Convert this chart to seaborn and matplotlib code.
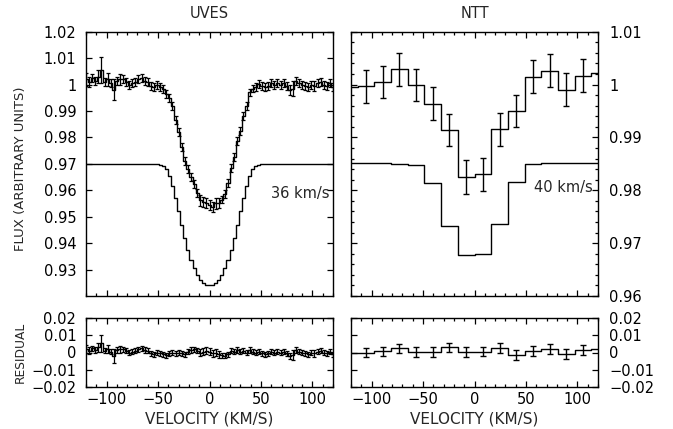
import numpy as np
import matplotlib
matplotlib.use("Agg")
import matplotlib.pyplot as plt
import seaborn as sns
from matplotlib.ticker import MultipleLocator

# ---------------------------------------------------------------------------
# Data
# ---------------------------------------------------------------------------
# UVES: velocity grid (km/s), observed flux, errors, model and residuals
uves_vel = np.arange(-120, 121, 3)
uves_flux = [
    1.0020, 1.0010, 1.0025, 1.0015, 1.0030, 1.0055, 1.0010, 1.0020, 1.0005, 0.9980,
    1.0015, 1.0020, 1.0020, 1.0010, 1.0000, 1.0005, 1.0010, 1.0020, 1.0025, 1.0015,
    1.0010, 0.9995, 0.9990, 0.9999, 0.9992, 0.9982, 0.9965, 0.9950, 0.9918, 0.9865,
    0.9820, 0.9765, 0.9710, 0.9680, 0.9651, 0.9625, 0.9590, 0.9562, 0.9555, 0.9552,
    0.9545, 0.9537, 0.9550, 0.9552, 0.9565, 0.9585, 0.9626, 0.9685, 0.9725, 0.9785,
    0.9825, 0.9880, 0.9918, 0.9970, 0.9985, 0.9992, 1.0002, 0.9994, 0.9990, 0.9995,
    1.0005, 1.0000, 1.0005, 1.0000, 1.0005, 0.9995, 0.9980, 0.9985, 1.0015, 1.0005,
    1.0000, 0.9995, 0.9990, 1.0000, 0.9995, 1.0005, 1.0010, 1.0000, 0.9995, 1.0005,
    0.9990,
]
uves_err = [
    0.0025, 0.0020, 0.0015, 0.0015, 0.0025, 0.0050, 0.0015, 0.0025, 0.0015, 0.0040,
    0.0015, 0.0020, 0.0015, 0.0015, 0.0015, 0.0015, 0.0015, 0.0015, 0.0015, 0.0015,
    0.0015, 0.0015, 0.0015, 0.0015, 0.0015, 0.0015, 0.0015, 0.0015, 0.0015, 0.0015,
    0.0015, 0.0015, 0.0015, 0.0015, 0.0015, 0.0015, 0.0015, 0.0020, 0.0020, 0.0020,
    0.0020, 0.0020, 0.0020, 0.0020, 0.0015, 0.0015, 0.0015, 0.0015, 0.0015, 0.0015,
    0.0015, 0.0015, 0.0015, 0.0015, 0.0015, 0.0015, 0.0015, 0.0015, 0.0015, 0.0015,
    0.0015, 0.0015, 0.0015, 0.0015, 0.0015, 0.0015, 0.0020, 0.0030, 0.0015, 0.0015,
    0.0015, 0.0015, 0.0015, 0.0015, 0.0020, 0.0015, 0.0015, 0.0015, 0.0015, 0.0015,
    0.0015,
]
uves_model = [
    0.9700, 0.9700, 0.9700, 0.9700, 0.9700, 0.9700, 0.9700, 0.9700, 0.9700, 0.9700,
    0.9700, 0.9700, 0.9700, 0.9700, 0.9700, 0.9700, 0.9700, 0.9700, 0.9700, 0.9700,
    0.9700, 0.9700, 0.9700, 0.9699, 0.9697, 0.9692, 0.9680, 0.9655, 0.9618, 0.9570,
    0.9520, 0.9470, 0.9420, 0.9375, 0.9336, 0.9305, 0.9280, 0.9262, 0.9250, 0.9242,
    0.9240, 0.9242, 0.9250, 0.9262, 0.9280, 0.9305, 0.9336, 0.9375, 0.9420, 0.9470,
    0.9520, 0.9570, 0.9618, 0.9655, 0.9680, 0.9692, 0.9697, 0.9699, 0.9700, 0.9700,
    0.9700, 0.9700, 0.9700, 0.9700, 0.9700, 0.9700, 0.9700, 0.9700, 0.9700, 0.9700,
    0.9700, 0.9700, 0.9700, 0.9700, 0.9700, 0.9700, 0.9700, 0.9700, 0.9700, 0.9700,
    0.9700,
]
uves_resid = [
    0.0020, 0.0010, 0.0025, 0.0015, 0.0030, 0.0055, 0.0010, 0.0020, 0.0005, -0.0020,
    0.0015, 0.0020, 0.0020, 0.0010, 0.0000, 0.0005, 0.0010, 0.0020, 0.0025, 0.0015,
    0.0010, -0.0005, -0.0010, 0.0000, -0.0005, -0.0010, -0.0015, -0.0005, 0.0000, -0.0005,
    0.0000, -0.0005, -0.0010, 0.0005, 0.0015, 0.0020, 0.0010, 0.0000, 0.0005, 0.0010,
    0.0005, -0.0005, 0.0000, -0.0010, -0.0015, -0.0020, -0.0010, 0.0010, 0.0005, 0.0015,
    0.0005, 0.0010, 0.0000, 0.0015, 0.0005, 0.0000, 0.0005, -0.0005, -0.0010, -0.0005,
    0.0005, 0.0000, 0.0005, 0.0000, 0.0005, -0.0005, -0.0020, -0.0015, 0.0015, 0.0005,
    0.0000, -0.0005, -0.0010, 0.0000, -0.0005, 0.0005, 0.0010, 0.0000, -0.0005, 0.0005,
    -0.0010,
]

# NTT: coarse bins (edge bins only partly inside the window)
ntt_vel = [-121.5, -105.3, -89.1, -72.9, -56.7, -40.5, -24.3, -8.1,
           8.1, 24.3, 40.5, 56.7, 72.9, 89.1, 105.3, 121.5]
ntt_flux = [0.9995, 0.9997, 1.0005, 1.0029, 0.9999, 0.9964, 0.9914, 0.9825,
            0.9830, 0.9915, 0.9950, 1.0015, 1.0026, 0.9990, 1.0017, 1.0022]
ntt_err = [np.nan, 0.0031, 0.0031, 0.0031, 0.0031, 0.0031, 0.0031, 0.0032,
           0.0032, 0.0031, 0.0031, 0.0031, 0.0031, 0.0031, 0.0031, np.nan]
ntt_model = [0.9851, 0.9851, 0.9851, 0.9850, 0.9848, 0.9814, 0.9733, 0.9677,
             0.9679, 0.9736, 0.9816, 0.9850, 0.9851, 0.9851, 0.9851, 0.9851]
ntt_resid = [0.0000, 0.0000, 0.0007, 0.0024, 0.0003, 0.0003, 0.0030, 0.0003,
             0.0005, 0.0028, -0.0016, 0.0010, 0.0020, -0.0009, 0.0013, 0.0018]
ntt_resid_err = [np.nan, 0.0028, 0.0028, 0.0028, 0.0028, 0.0028, 0.0028, 0.0028,
                 0.0028, 0.0028, 0.0028, 0.0028, 0.0028, 0.0028, 0.0028, np.nan]

# ---------------------------------------------------------------------------
# Style
# ---------------------------------------------------------------------------
sns.set_theme(style="ticks")
plt.rcParams.update({
    "font.family": ["DejaVu Sans"],
    "axes.linewidth": 1.0,
    "axes.edgecolor": "black",
    "xtick.direction": "in", "ytick.direction": "in",
    "xtick.top": True, "ytick.right": True,
    "xtick.major.size": 4.5, "xtick.minor.size": 2.5,
    "ytick.major.size": 4.5, "ytick.minor.size": 2.5,
    "xtick.major.width": 0.9, "ytick.major.width": 0.9,
    "xtick.minor.width": 0.9, "ytick.minor.width": 0.9,
    "xtick.labelsize": 10.5, "ytick.labelsize": 10.5,
    "xtick.color": "black", "ytick.color": "black",
})

W, H = 673, 429
fig = plt.figure(figsize=(W / 100, H / 100), dpi=100)


def box(x0, y0, x1, y1):
    return [x0 / W, 1 - y1 / H, (x1 - x0) / W, (y1 - y0) / H]


ax_uv = fig.add_axes(box(86, 31.7, 333, 296))
ax_nt = fig.add_axes(box(351, 31.7, 598, 296))
ax_uv_r = fig.add_axes(box(86, 318.3, 333, 386.7))
ax_nt_r = fig.add_axes(box(351, 318.3, 598, 386.7))

LW = 1.0
kw_line = dict(color="black", linewidth=LW, drawstyle="steps-mid")

# UVES flux + model
sns.lineplot(x=uves_vel, y=uves_flux, ax=ax_uv, **kw_line)
ax_uv.errorbar(uves_vel, uves_flux, yerr=uves_err, fmt="none", ecolor="black",
               elinewidth=0.9, capsize=1.6, capthick=0.9)
sns.lineplot(x=uves_vel, y=uves_model, ax=ax_uv, **kw_line)
ax_uv.text(117, 0.9588, "36 km/s", ha="right", va="center", fontsize=10.5)

# NTT flux + model
sns.lineplot(x=ntt_vel, y=ntt_flux, ax=ax_nt, **kw_line)
ax_nt.errorbar(ntt_vel, ntt_flux, yerr=ntt_err, fmt="none", ecolor="black",
               elinewidth=1.0, capsize=2.2, capthick=1.0)
sns.lineplot(x=ntt_vel, y=ntt_model, ax=ax_nt, **kw_line)
ax_nt.text(115, 0.9806, "40 km/s", ha="right", va="center", fontsize=10.5)

# Residuals
sns.lineplot(x=uves_vel, y=uves_resid, ax=ax_uv_r, **kw_line)
ax_uv_r.errorbar(uves_vel, uves_resid, yerr=uves_err, fmt="none", ecolor="black",
                 elinewidth=0.9, capsize=1.6, capthick=0.9)
sns.lineplot(x=ntt_vel, y=ntt_resid, ax=ax_nt_r, **kw_line)
ax_nt_r.errorbar(ntt_vel, ntt_resid, yerr=ntt_resid_err, fmt="none", ecolor="black",
                 elinewidth=1.0, capsize=2.2, capthick=1.0)

# Axes limits / ticks
for ax in (ax_uv, ax_nt, ax_uv_r, ax_nt_r):
    ax.set_xlim(-120, 120)
    ax.xaxis.set_major_locator(MultipleLocator(50))
    ax.xaxis.set_minor_locator(MultipleLocator(10))
    ax.tick_params(which="both", top=True, right=True, bottom=True, left=True)
    for s in ax.spines.values():
        s.set_visible(True)

ax_uv.set_ylim(0.92, 1.02)
ax_uv.set_yticks([0.93, 0.94, 0.95, 0.96, 0.97, 0.98, 0.99, 1.0, 1.01, 1.02])
ax_uv.set_yticklabels(["0.93", "0.94", "0.95", "0.96", "0.97", "0.98", "0.99",
                       "1", "1.01", "1.02"])
ax_nt.set_ylim(0.96, 1.01)
ax_nt.set_yticks([0.96, 0.97, 0.98, 0.99, 1.0, 1.01])
ax_nt.set_yticklabels(["0.96", "0.97", "0.98", "0.99", "1", "1.01"])
ax_nt.yaxis.set_minor_locator(MultipleLocator(0.002))
for ax in (ax_uv_r, ax_nt_r):
    ax.set_ylim(-0.02, 0.02)
    ax.set_yticks([-0.02, -0.01, 0, 0.01, 0.02])
    ax.set_yticklabels(["\u22120.02", "\u22120.01", "0", "0.01", "0.02"])

for ax in (ax_uv, ax_nt):
    ax.tick_params(labelbottom=False)
for ax in (ax_nt, ax_nt_r):
    ax.tick_params(labelleft=False, labelright=True, pad=8)
for ax in (ax_uv, ax_uv_r):
    ax.tick_params(axis="y", pad=7)
for ax in (ax_uv_r, ax_nt_r):
    ax.tick_params(axis="x", pad=4)
    ax.set_xticks([-100, -50, 0, 50, 100])
    ax.set_xticklabels(["\u2212100", "\u221250", "0", "50", "100"])
    ax.set_xlabel("VELOCITY (KM/S)", fontsize=11, labelpad=3)

ax_uv.set_title("UVES", fontsize=10.5, pad=10)
ax_nt.set_title("NTT", fontsize=10.5, pad=10)
ax_uv.set_ylabel("FLUX (ARBITRARY UNITS)", fontsize=9.5)
ax_uv_r.set_ylabel("RESIDUAL", fontsize=8.8)
# centre both y labels about 22 px from the left edge of the figure
ax_uv.yaxis.set_label_coords(-59 / 247, 0.48)
ax_uv_r.yaxis.set_label_coords(-59 / 247, 0.5)

fig.savefig("out.png", dpi=100)
